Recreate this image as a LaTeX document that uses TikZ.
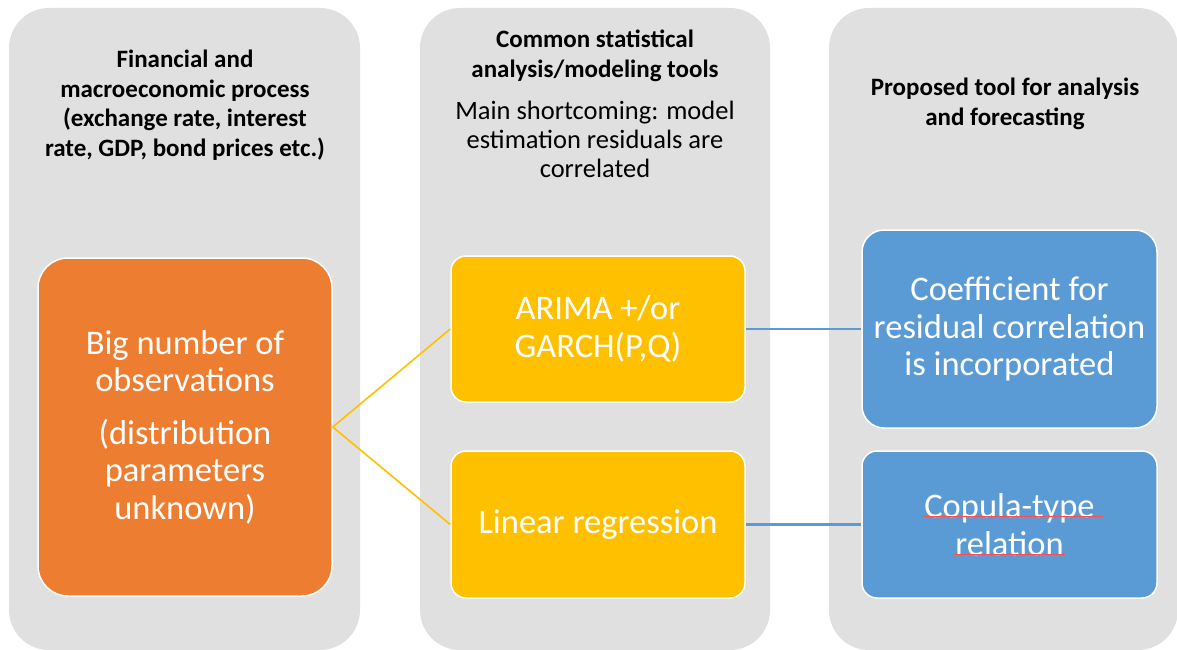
\documentclass[tikz,border=0pt]{standalone}
\usepackage{fontspec}
\setmainfont{Carlito}
\usetikzlibrary{positioning}

\definecolor{colgray}{HTML}{E0E0E0}
\definecolor{boxorange}{HTML}{ED7D31}
\definecolor{boxyellow}{HTML}{FFC000}
\definecolor{boxblue}{HTML}{5B9BD5}

\tikzset{
  column/.style={fill=colgray, rounded corners=40pt},
  head/.style={align=center, font=\fontsize{25}{29.5}\selectfont\bfseries},
  note/.style={align=center, font=\fontsize{26.5}{29}\selectfont},
  box/.style={draw=white, line width=1.5pt, text=white, align=center,
    inner sep=0pt, font=\fontsize{34.5}{37.5}\selectfont},
  ylink/.style={draw=boxyellow, line width=1.6pt},
  blink/.style={draw=boxblue, line width=2.2pt},
}

\begin{document}
\begin{tikzpicture}[x=1pt, y=-1pt]

\useasboundingbox (0,0) rectangle (1177,650);

% gray columns
\begin{scope}
\fill[column] (9,8) rectangle (360,650);
\fill[column] (420,8) rectangle (770,650);
\fill[column] (829,8) rectangle (1178,650);
\end{scope}

% column titles
\node[head] (headfin) at (185,105) {Financial and\\macroeconomic process\\(exchange rate, interest\\rate, GDP, bond prices etc.)};
\node[head] (headstat) at (595,56) {Common statistical\\analysis/modeling tools};
\node[note] (shortcoming) at (595,139) {Main shortcoming: model\\estimation residuals are\\correlated};
\node[head] (headprop) at (1005,104) {Proposed tool for analysis\\and forecasting};

% boxes
\node[box, fill=boxorange, rounded corners=30pt, minimum width=294pt, minimum height=338pt]
  (bignum) at (185,427) {Big number of\\observations\\[15pt](distribution\\parameters\\unknown)};
\node[box, fill=boxyellow, rounded corners=15pt, minimum width=294pt, minimum height=146pt]
  (arima) at (598,329) {ARIMA +/or\\GARCH(P,Q)};
\node[box, fill=boxyellow, rounded corners=15pt, minimum width=294pt, minimum height=147pt]
  (linreg) at (598,524.5) {Linear regression};
\node[box, fill=boxblue, rounded corners=22pt, minimum width=295pt, minimum height=198pt]
  (coeff) at (1009.5,329) {Coefficient for\\residual correlation\\is incorporated};
\node[box, fill=boxblue, rounded corners=15pt, minimum width=295pt, minimum height=147pt]
  (copula) at (1009.5,524.5) {Copula-type\\relation};

% spell-check marks
\draw[red!70, line width=0.5pt] (923,516) -- (1103,516);
\draw[red!70, line width=0.5pt] (954,554) -- (1065,554);

% links
\draw[ylink] (bignum.east) -- (arima.west);
\draw[ylink] (bignum.east) -- (linreg.west);
\draw[blink] (arima.east) -- (coeff.west);
\draw[blink] (linreg.east) -- (copula.west);

\end{tikzpicture}
\end{document}
